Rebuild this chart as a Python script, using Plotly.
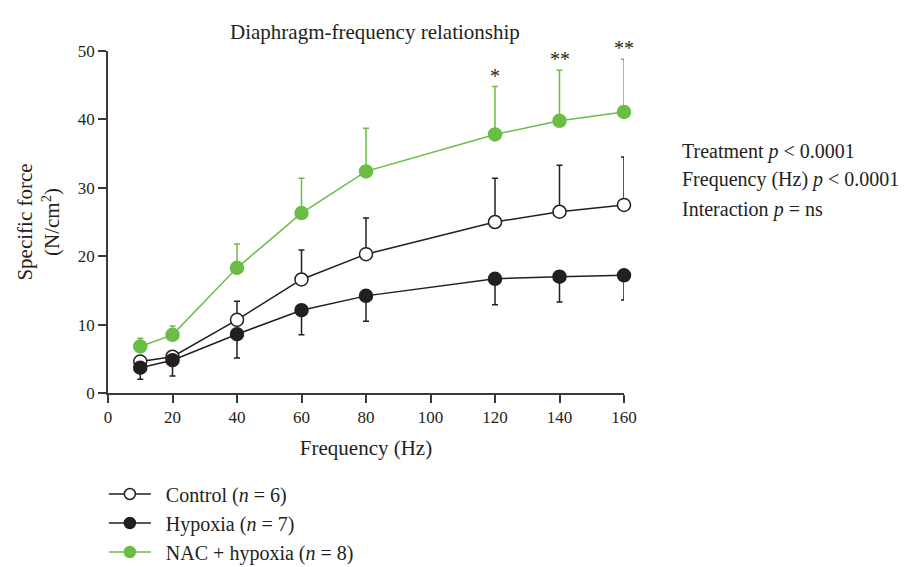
import plotly.graph_objects as go

# Stimulation frequencies (Hz)
freq = [10, 20, 40, 60, 80, 120, 140, 160]

# Mean specific force (N/cm^2) and error bar lengths
control_mean = [4.6, 5.3, 10.7, 16.6, 20.3, 25.0, 26.5, 27.5]
control_err_up = [0.0, 0.8, 2.7, 4.3, 5.3, 6.4, 6.8, 7.0]

hypoxia_mean = [3.7, 4.8, 8.6, 12.1, 14.2, 16.7, 17.0, 17.2]
hypoxia_err_down = [1.7, 2.3, 3.5, 3.6, 3.7, 3.8, 3.7, 3.6]

nac_mean = [6.8, 8.5, 18.3, 26.3, 32.4, 37.8, 39.8, 41.1]
nac_err_up = [1.2, 1.3, 3.5, 5.1, 6.3, 7.0, 7.4, 7.7]

# Significance markers for NAC + hypoxia vs hypoxia
sig_freq = [120, 140, 160]
sig_labels = ["*", "**", "**"]

stats = ["Treatment <i>p</i> < 0.0001",
         "Frequency (Hz) <i>p</i> < 0.0001",
         "Interaction <i>p</i> = ns"]

ink = "#231f20"
axis_ink = "#3a3a3a"
green = "#6cbd45"
font_family = "Liberation Serif, Times New Roman, serif"
text_size = 21
stats_size = 20
legend_size = 20
pad = "\u00a0\u00a0"

series = [
    ("Control (<i>n</i> = 6)", control_mean, control_err_up, None, ink, "white"),
    ("Hypoxia (<i>n</i> = 7)", hypoxia_mean, None, hypoxia_err_down, ink, ink),
    ("NAC + hypoxia (<i>n</i> = 8)", nac_mean, nac_err_up, None, green, green),
]

fig = go.Figure()
zeros = [0] * len(freq)

for name, mean, up, down, col, fill in series:
    fig.add_trace(go.Scatter(
        x=freq, y=mean, mode="lines+markers", showlegend=False,
        line=dict(color=col, width=1.5),
        marker=dict(symbol="circle", size=13, color=fill, line=dict(color=col, width=1.5)),
        error_y=dict(type="data", symmetric=False,
                     array=up if up is not None else zeros,
                     arrayminus=down if down is not None else zeros,
                     color=col, thickness=1.5, width=3),
        cliponaxis=False,
    ))

# legend entries with smaller symbols
for name, mean, up, down, col, fill in series:
    fig.add_trace(go.Scatter(
        x=[None], y=[None], mode="lines+markers", name=pad + name,
        line=dict(color=col, width=1.5),
        marker=dict(symbol="circle", size=11, color=fill, line=dict(color=col, width=1.5)),
    ))

px_w = 624 - 108
px_h = 393 - 51

annotations = []
for f, lab in zip(sig_freq, sig_labels):
    i = freq.index(f)
    annotations.append(dict(
        x=f, y=nac_mean[i] + nac_err_up[i], xref="x", yref="y",
        text=lab, showarrow=False, yanchor="bottom", yshift=-2,
        font=dict(family=font_family, size=20, color=ink),
    ))

annotations.append(dict(
    x=(375 - 108) / px_w, y=(393 - 18) / px_h, xref="paper", yref="paper",
    text="Diaphragm-frequency relationship", showarrow=False,
    font=dict(family=font_family, size=text_size, color=ink),
))

for k, s in enumerate(stats):
    annotations.append(dict(
        x=(680 - 108) / px_w, y=(393 - (151 + 29 * k)) / px_h,
        xref="paper", yref="paper", text=s,
        showarrow=False, xanchor="left", yanchor="middle",
        font=dict(family=font_family, size=stats_size, color=ink),
    ))

fig.update_layout(
    width=907, height=567,
    margin=dict(l=108, r=283, t=51, b=174),
    paper_bgcolor="white", plot_bgcolor="white",
    font=dict(family=font_family, size=17, color=ink),
    showlegend=True,
    legend=dict(x=-0.008, y=1 - 474.5 / 567, yref="container",
                xanchor="left", yanchor="top",
                font=dict(family=font_family, size=legend_size, color=ink),
                itemwidth=42, bgcolor="rgba(0,0,0,0)"),
    annotations=annotations,
)

fig.update_xaxes(
    range=[0, 160], tickmode="array", tickvals=list(range(0, 161, 20)),
    showline=True, linecolor=axis_ink, linewidth=1.5, ticks="outside",
    ticklen=8, tickwidth=1.5, tickcolor=axis_ink, showgrid=False, zeroline=False,
    title=dict(text="Frequency (Hz)", standoff=14, font=dict(size=text_size)),
    tickfont=dict(size=17),
)
fig.update_yaxes(
    range=[0, 50], tickmode="array", tickvals=list(range(0, 51, 10)),
    showline=True, linecolor=axis_ink, linewidth=1.5, ticks="outside",
    ticklen=8, tickwidth=1.5, tickcolor=axis_ink, showgrid=False, zeroline=False,
    title=dict(text="Specific force<br>(N/cm<sup>2</sup>)", standoff=12, font=dict(size=text_size)),
    tickfont=dict(size=17),
)

fig.write_html("out.html")
